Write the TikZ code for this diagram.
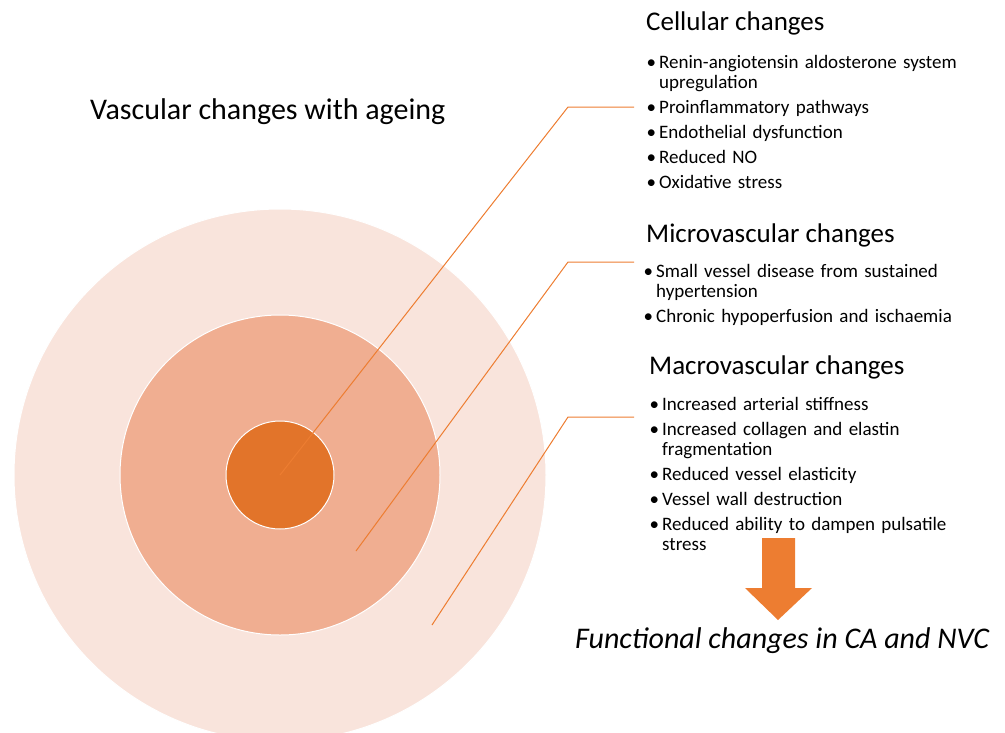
\documentclass[tikz,border=0pt]{standalone}
\usepackage{fontspec}
\setmainfont{Carlito}
\usepackage{enumitem}
\definecolor{ringOuter}{HTML}{F9E4DC}
\definecolor{ringMiddle}{HTML}{F0AE91}
\definecolor{ringInner}{HTML}{E2742A}
\definecolor{leaderOrange}{HTML}{ED7D31}
\setlist[itemize]{leftmargin=12pt,labelsep=3pt,itemsep=5pt,parsep=0pt,topsep=0pt,partopsep=0pt}
\begin{document}
\begin{tikzpicture}[x=1pt,y=-1pt,
    ring/.style={circle, draw=white, line width=1pt, inner sep=0pt},
    heading/.style={anchor=base west, inner sep=0pt, font=\fontsize{27}{31}\selectfont},
    bulletlist/.style={anchor=base west, inner sep=0pt, text width=#1, align=left, font=\fontsize{19}{20}\selectfont},
    leader/.style={draw=leaderOrange, line width=1pt}]
    \useasboundingbox (0,0) rectangle (1005,732);
    \clip (0,0) rectangle (1005,732);

    % rings
    \node[ring, fill=ringOuter, minimum size=532pt] (outer) at (280,475) {};
    \node[ring, fill=ringMiddle, minimum size=320pt] (middle) at (280,475) {};
    \node[ring, fill=ringInner, minimum size=108pt] (inner) at (280,475) {};

    \node[anchor=base west, inner sep=0pt, font=\fontsize{30}{34}\selectfont] (title) at (90,119) {Vascular changes with ageing};

    % headings and lists
    \node[heading] (cellHead) at (646,30) {Cellular changes};
    \node[bulletlist=350pt] (cellList) at (647,48.5) {\begin{itemize}
        \item Renin-angiotensin aldosterone system\\upregulation
        \item Proinflammatory pathways
        \item Endothelial dysfunction
        \item Reduced NO
        \item Oxidative stress
    \end{itemize}};
    \node[heading] (microHead) at (646,242) {Microvascular changes};
    \node[bulletlist=350pt] (microList) at (644,257.5) {\begin{itemize}
        \item Small vessel disease from sustained\\hypertension
        \item Chronic hypoperfusion and ischaemia
    \end{itemize}};
    \node[heading] (macroHead) at (649,374) {Macrovascular changes};
    \node[bulletlist=350pt] (macroList) at (650,390) {\begin{itemize}
        \item Increased arterial stiffness
        \item Increased collagen and elastin\\fragmentation
        \item Reduced vessel elasticity
        \item Vessel wall destruction
        \item Reduced ability to dampen pulsatile\\stress
    \end{itemize}};

    % leader lines
    \coordinate (cellBend) at (568,107);
    \coordinate (cellEnd) at (634,107);
    \coordinate (microStart) at (356,551);
    \coordinate (microBend) at (568,262);
    \coordinate (microEnd) at (634,262);
    \coordinate (macroStart) at (432,625);
    \coordinate (macroBend) at (568,417);
    \coordinate (macroEnd) at (634,417);
    \draw[leader] (inner.center) -- (cellBend) -- (cellEnd);
    \draw[leader] (microStart) -- (microBend) -- (microEnd);
    \draw[leader] (macroStart) -- (macroBend) -- (macroEnd);

    % block arrow
    \fill[leaderOrange] (762,538) -- (795,538) -- (795,588) -- (812,588) -- (778,620)
        -- (745,588) -- (762,588) -- cycle;

    \node[anchor=base west, inner sep=0pt, font=\fontsize{30}{34}\selectfont\itshape] (functional) at (575,648) {Functional changes in CA and NVC};
\end{tikzpicture}
\end{document}
